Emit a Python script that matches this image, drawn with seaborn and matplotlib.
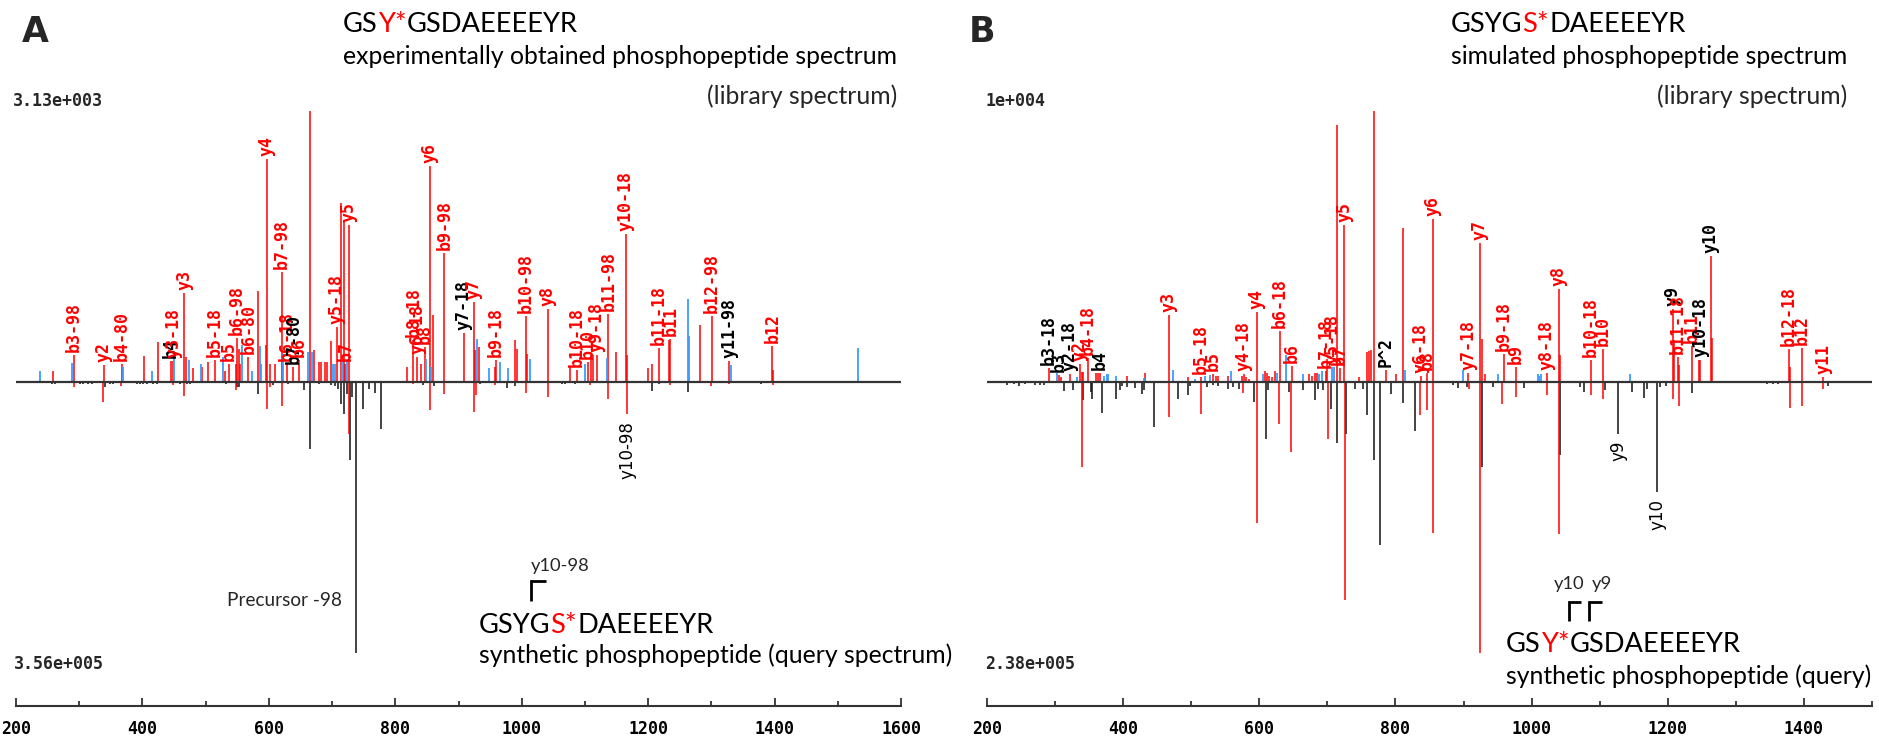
import matplotlib
matplotlib.use("Agg")
import matplotlib.pyplot as plt
import matplotlib.transforms as mtransforms
from matplotlib.lines import Line2D
from matplotlib.ticker import MultipleLocator
import seaborn as sns

# ---------------- data (relative intensities, m/z) ----------------
# Panel A, library spectrum (top)
A_lib_red_mz = [259.1, 291.2, 339.2, 367.2, 402.5, 424.1, 445.2, 448.9, 466.3, 468.4,
                480.5, 494.2, 504.3, 514.8, 531.2, 537.0, 547.5, 549.6, 552.2, 554.4,
                567.5, 583.4, 595.0, 597.1, 601.8, 609.7, 620.8, 628.2, 638.7, 647.2,
                665.6, 672.0, 678.8, 682.0, 688.8, 692.0, 697.8, 707.3, 713.6, 718.9,
                721.0, 726.3, 818.5, 828.6, 834.9, 840.2, 847.0, 854.4, 859.1, 877.6,
                908.2, 924.0, 925.6, 932.5, 957.8, 959.4, 989.4, 992.1, 1006.8, 1009.0,
                1041.1, 1076.4, 1087.5, 1104.4, 1109.1, 1112.3, 1118.6, 1137.1, 1148.7, 1165.0,
                1167.1, 1200.4, 1206.7, 1216.7, 1233.6, 1235.2, 1282.1, 1300.5, 1328.5, 1396.5,
                1398.1]
A_lib_red_int = [0.041, 0.101, 0.064, 0.068, 0.095, 0.148, 0.076, 0.076, 0.328, 0.092,
                 0.052, 0.055, 0.074, 0.082, 0.041, 0.068, 0.068, 0.164, 0.123, 0.068,
                 0.092, 0.335, 0.138, 0.824, 0.068, 0.068, 0.406, 0.068, 0.055, 0.082,
                 1.0, 0.117, 0.074, 0.074, 0.074, 0.074, 0.151, 0.203, 0.661, 0.590,
                 0.068, 0.581, 0.055, 0.154, 0.092, 0.068, 0.129, 0.796, 0.248, 0.476,
                 0.182, 0.295, 0.117, 0.129, 0.055, 0.080, 0.156, 0.123, 0.242, 0.105,
                 0.269, 0.055, 0.046, 0.074, 0.098, 0.098, 0.098, 0.252, 0.111, 0.547,
                 0.098, 0.052, 0.068, 0.127, 0.156, 0.160, 0.209, 0.242, 0.077, 0.133,
                 0.046]
A_lib_blue_mz = [238.0, 288.6, 368.7, 415.1, 450.0, 473.7, 492.1, 527.0, 557.0, 573.9,
                 585.5, 588.1, 622.4, 662.5, 667.7, 702.0, 704.1, 715.7, 723.1, 848.6,
                 856.5, 928.8, 947.8, 966.2, 978.4, 1013.2, 1100.2, 1134.4, 1263.1, 1265.2,
                 1331.1, 1532.0]
A_lib_blue_int = [0.041, 0.071, 0.055, 0.041, 0.092, 0.080, 0.068, 0.092, 0.138, 0.041,
                  0.133, 0.068, 0.105, 0.111, 0.111, 0.068, 0.068, 0.080, 0.080, 0.086,
                  0.055, 0.160, 0.052, 0.073, 0.052, 0.085, 0.068, 0.090, 0.307, 0.171,
                  0.061, 0.127]
A_lib_labels = ["b3-98", "y2", "b4-80", "b4", "y3-18", "y3", "b5-18", "b5", "b6-98", "b6-80",
                "y4", "b7-98", "b6-18", "b7-80", "b6", "y5-18", "b7", "y5", "b8-18", "y6-18",
                "b8", "y6", "b9-98", "y7-18", "y7", "b9-18", "b10-98", "y8", "b10-18", "b10",
                "y9-18", "b11-98", "y10-18", "b11-18", "b11", "b12-98", "y11-98", "b12"]
A_lib_label_mz = [291.2, 339.2, 367.2, 445.2, 448.9, 466.3, 514.8, 537.0, 549.6, 567.5,
                  597.1, 620.8, 628.2, 638.7, 647.2, 707.3, 721.0, 726.3, 828.6, 834.9,
                  847.0, 854.4, 877.6, 908.2, 924.0, 959.4, 1006.8, 1041.1, 1087.5, 1104.4,
                  1118.6, 1137.1, 1165.0, 1216.7, 1235.2, 1300.5, 1328.5, 1396.5]
A_lib_black_labels = ["b4", "b7-80", "y7-18", "y11-98"]

# Panel A, query spectrum (bottom, drawn inverted)
A_qry_red_mz = [291.8, 338.2, 366.1, 448.9, 466.3, 547.5, 597.1, 601.8, 620.8, 726.3,
                828.6, 854.4, 877.6, 924.0, 927.7, 957.8, 1006.8, 1041.1, 1108.0, 1137.1,
                1167.1, 1235.0, 1299.0, 1328.0, 1397.0]
A_qry_red_int = [0.018, 0.074, 0.015, 0.012, 0.052, 0.031, 0.101, 0.018, 0.090, 0.193,
                 0.009, 0.105, 0.043, 0.111, 0.049, 0.012, 0.041, 0.055, 0.012, 0.062,
                 0.117, 0.012, 0.016, 0.009, 0.012]
A_qry_black_mz = [256.4, 261.7, 301, 306, 314, 321, 340.8, 349, 354, 391,
                  396, 401, 407, 417, 423, 459.5, 470, 475, 532, 550,
                  553.3, 583.4, 607, 631, 655.6, 665.1, 680, 699, 704, 710.1,
                  713.6, 718.9, 723.1, 728.4, 731.5, 737.9, 749.5, 758.4, 767.9, 777.4,
                  844, 861.2, 934, 976.3, 990.0, 1063, 1068, 1084, 1206.7, 1217,
                  1263.6, 1379]
A_qry_black_int = [0.009, 0.009, 0.006, 0.006, 0.006, 0.006, 0.018, 0.006, 0.006, 0.006,
                   0.006, 0.006, 0.006, 0.006, 0.006, 0.009, 0.009, 0.009, 0.006, 0.018,
                   0.018, 0.045, 0.012, 0.009, 0.028, 0.248, 0.009, 0.012, 0.016, 0.025,
                   0.080, 0.117, 0.043, 0.287, 0.055, 1.0, 0.101, 0.025, 0.041, 0.172,
                   0.012, 0.016, 0.006, 0.021, 0.016, 0.006, 0.006, 0.009, 0.033, 0.009,
                   0.037, 0.006]
A_qry_labels = ["y10-98"]
A_qry_label_mz = [1167.1]
A_precursor_mz = 737.9

# Panel B, library spectrum (top)
B_lib_red_mz = [291.1, 305.3, 308.2, 321.9, 336.6, 339.5, 341.5, 347.9, 360.1, 363.0,
                366.0, 406.1, 432.1, 467.3, 495.2, 513.8, 531.5, 536.4, 538.8, 554.0,
                575.0, 577.5, 580.4, 585.3, 596.1, 608.8, 611.8, 614.7, 618.1, 623.0,
                629.9, 647.5, 672.9, 677.8, 681.8, 684.7, 697.4, 699.9, 713.6, 718.5,
                724.9, 746.9, 758.6, 761.6, 764.5, 767.9, 785.6, 800.8, 811.5, 837.4,
                845.8, 855.1, 907.0, 924.1, 927.0, 931.9, 959.4, 976.5, 1022.5, 1039.7,
                1042.1, 1087.1, 1104.3, 1207.1, 1209.0, 1214.9, 1216.9, 1235.0, 1245.8, 1247.7,
                1263.4, 1264.9, 1378.0, 1379.4, 1397.5, 1428.4]
B_lib_red_int = [0.052, 0.025, 0.018, 0.028, 0.068, 0.037, 0.037, 0.089, 0.033, 0.033,
                 0.033, 0.023, 0.033, 0.246, 0.018, 0.018, 0.028, 0.021, 0.021, 0.023,
                 0.023, 0.028, 0.018, 0.012, 0.257, 0.041, 0.033, 0.023, 0.018, 0.041,
                 0.187, 0.059, 0.028, 0.023, 0.033, 0.033, 0.041, 0.086, 0.950, 0.052,
                 0.581, 0.018, 0.111, 0.114, 0.117, 1.0, 0.046, 0.028, 0.568, 0.023,
                 0.033, 0.603, 0.033, 0.513, 0.159, 0.028, 0.105, 0.055, 0.033, 0.343,
                 0.098, 0.082, 0.123, 0.271, 0.154, 0.092, 0.062, 0.132, 0.080, 0.082,
                 0.466, 0.164, 0.123, 0.055, 0.127, 0.018]
B_lib_blue_mz = [303.3, 331.7, 372.3, 375.8, 378.2, 389.0, 430.6, 472.7, 505.5, 520.2,
                 527.5, 558.4, 605.9, 626.5, 638.7, 664.6, 687.7, 692.5, 707.2, 709.7,
                 814.0, 898.6, 950.5, 1008.8, 1011.3, 1013.7, 1143.9]
B_lib_blue_int = [0.033, 0.018, 0.023, 0.028, 0.028, 0.023, 0.015, 0.046, 0.012, 0.021,
                  0.025, 0.041, 0.028, 0.033, 0.098, 0.028, 0.028, 0.041, 0.055, 0.055,
                  0.046, 0.046, 0.028, 0.028, 0.023, 0.028, 0.028]
B_lib_labels = ["b3-18", "b3", "y2-18", "y2", "b4-18", "b4", "y3", "b5-18", "b5", "y4-18",
                "y4", "b6-18", "b6", "b7-18", "y5-18", "b7", "y5", "P^2", "y6-18", "b8",
                "y6", "y7-18", "y7", "b9-18", "b9", "y8-18", "y8", "b10-18", "b10", "y9",
                "b11-18", "b11", "y10-18", "y10", "b12-18", "b12", "y11"]
B_lib_label_mz = [291.1, 305.3, 321.9, 336.6, 347.9, 366.0, 467.3, 513.8, 531.5, 577.5,
                  596.1, 629.9, 647.5, 697.4, 707.2, 718.5, 724.9, 785.6, 837.4, 845.8,
                  855.1, 907.0, 924.1, 959.4, 976.5, 1022.5, 1039.7, 1087.1, 1104.3, 1207.1,
                  1214.9, 1235.0, 1247.7, 1263.4, 1378.0, 1397.5, 1428.4]
B_lib_black_labels = ["b3-18", "b3", "y2-18", "b4", "P^2", "y9", "y10-18", "y10"]

# Panel B, query spectrum (bottom, drawn inverted)
B_qry_red_mz = [339.0, 466.8, 514.3, 576.5, 597.1, 629.4, 647.0, 701.3, 725.4, 836.0,
                845.8, 855.1, 907.9, 924.1, 956.9, 976.5, 1022.5, 1039.7, 1087.1, 1104.3,
                1207.1, 1215.9, 1379.4, 1397.5, 1428.4]
B_qry_red_int = [0.314, 0.129, 0.117, 0.041, 0.520, 0.154, 0.258, 0.209, 0.803, 0.120,
                 0.105, 0.557, 0.027, 1.0, 0.082, 0.055, 0.049, 0.562, 0.049, 0.062,
                 0.062, 0.090, 0.095, 0.090, 0.025]
B_qry_black_mz = [228.9, 239.7, 247.5, 256, 270.5, 277.8, 283.7, 313.1, 325.8, 341.5,
                  352.3, 354.2, 369.4, 389.0, 395.3, 399, 405.1, 417.4, 428.2, 430.6,
                  445.3, 480.0, 494.7, 498, 522.5, 532, 539, 554.5, 562, 570.2,
                  592.7, 610.3, 613, 643.6, 664.1, 681.8, 686.7, 694.0, 704.8, 714.1,
                  726.8, 740.5, 752.8, 757.6, 768.4, 777.2, 792.9, 811.5, 829.3, 884.9,
                  892.3, 904.5, 926.6, 942.7, 989.2, 1041.6, 1071.0, 1077.3, 1107.2, 1127.3,
                  1147.9, 1165.5, 1169, 1184.6, 1188, 1197, 1235.0, 1345.2, 1355, 1362,
                  1435.7]
B_qry_black_int = [0.012, 0.009, 0.016, 0.006, 0.012, 0.012, 0.012, 0.033, 0.028, 0.068,
                   0.037, 0.062, 0.113, 0.062, 0.031, 0.016, 0.018, 0.021, 0.043, 0.031,
                   0.166, 0.062, 0.049, 0.016, 0.018, 0.012, 0.016, 0.025, 0.018, 0.025,
                   0.074, 0.209, 0.031, 0.037, 0.028, 0.068, 0.025, 0.031, 0.098, 0.225,
                   0.191, 0.025, 0.025, 0.120, 0.289, 0.600, 0.043, 0.077, 0.182, 0.012,
                   0.021, 0.018, 0.314, 0.018, 0.021, 0.270, 0.018, 0.037, 0.028, 0.191,
                   0.037, 0.058, 0.025, 0.406, 0.018, 0.016, 0.041, 0.009, 0.009, 0.009,
                   0.016]
B_qry_labels = ["y9", "y10"]
B_qry_label_mz = [1127.3, 1184.6]

A_ticks = [200, 400, 600, 800, 1000, 1200, 1400, 1600]
B_ticks = [200, 400, 600, 800, 1000, 1200, 1400]
A_scale_top, A_scale_bottom = "3.13e+003", "3.56e+005"
B_scale_top, B_scale_bottom = "1e+004", "2.38e+005"

# ---------------- figure ----------------
W, H, DPI = 1879, 739, 100
sns.set_theme(style="white")
plt.rcParams["font.family"] = ["DejaVu Sans"]
fig = plt.figure(figsize=(W / DPI, H / DPI), dpi=DPI)
renderer = fig.canvas.get_renderer()

RED, BLUE, BLACK, GREY = "#ff0000", "#3c9cff", "#111111", "#333333"
MONO = ["DejaVu Sans Mono"]
SANS = ["Lato", "DejaVu Sans"]

BASE_Y, TOP_Y, AXIS_Y = 382, 111, 706
UNIT = BASE_Y - TOP_Y
YBOT = -(AXIS_Y - BASE_Y) / UNIT


def fx(x):
    return x / W


def fy(y):
    return 1 - y / H


def text_w(s, fs, family, weight="normal"):
    t = fig.text(0, 0, s, fontsize=fs, family=family, weight=weight)
    w = t.get_window_extent(renderer=renderer).width
    t.remove()
    return w


def fit(s, target, family, weight="normal"):
    return 20 * target / text_w(s, 20, family, weight)


def rich(pieces, x, ybase, fs, family, ha="left"):
    pos = []
    for s, c in pieces:
        pos.append(x)
        t = fig.text(fx(x), fy(ybase), s, color=c, fontsize=fs, family=family,
                     ha="left", va="baseline")
        x += t.get_window_extent(renderer=renderer).width
    pos.append(x)
    return pos


def bracket(x, ytop, ybot, length=14):
    fig.add_artist(Line2D([fx(x), fx(x), fx(x + length)], [fy(ybot), fy(ytop), fy(ytop)],
                          transform=fig.transFigure, color="black", lw=2.0,
                          solid_capstyle="butt", solid_joinstyle="miter"))


def make_axes(left, right, xmax, ticks):
    ax = fig.add_axes([fx(left), fy(AXIS_Y), (right - left) / W, (AXIS_Y - TOP_Y) / H])
    ax.set_xlim(200, xmax)
    ax.set_ylim(YBOT, 1.0)
    ax.set_facecolor("none")
    sns.despine(ax=ax, left=True, top=True, right=True)
    ax.spines["bottom"].set_color(GREY)
    ax.spines["bottom"].set_linewidth(1.5)
    ax.set_yticks([])
    ax.set_xticks(ticks)
    ax.set_xticklabels([str(t) for t in ticks], fontfamily=MONO, fontweight="bold",
                       fontsize=12, color="black")
    ax.xaxis.set_minor_locator(MultipleLocator(100))
    ax.tick_params(axis="x", which="major", bottom=True, direction="in", length=6,
                   width=1.3, color=GREY, pad=10)
    ax.tick_params(axis="x", which="minor", bottom=True, direction="in", length=3.5,
                   width=1.3, color=GREY)
    ax.grid(False)
    return ax


def draw_spectrum(ax, lib_red, lib_blue, qry_red, qry_black):
    ax.vlines(qry_black[0], [-v for v in qry_black[1]], 0, colors=BLACK, lw=1.1)
    ax.vlines(qry_red[0], [-v for v in qry_red[1]], 0, colors=RED, lw=1.1)
    ax.vlines(lib_red[0], 0, lib_red[1], colors=RED, lw=1.1)
    ax.vlines(lib_blue[0], 0, lib_blue[1], colors=BLUE, lw=1.3)
    ax.axhline(0, color=GREY, lw=1.6, zorder=3)


def top_labels(ax, labels, label_mz, black, peaks):
    off = mtransforms.offset_copy(ax.transData, fig=fig, x=0, y=3, units="dots")
    for s, m in zip(labels, label_mz):
        h = max(v for mzs, ints in peaks for x, v in zip(mzs, ints) if abs(x - m) < 0.05)
        ax.text(m, h, s, rotation=90, ha="center", va="bottom", transform=off,
                fontsize=12, family=MONO, weight="bold",
                color="black" if s in black else RED, clip_on=False, zorder=4)


def bottom_labels(ax, labels, label_mz, peaks):
    off = mtransforms.offset_copy(ax.transData, fig=fig, x=0, y=-7, units="dots")
    for s, m in zip(labels, label_mz):
        d = max(v for mzs, ints in peaks for x, v in zip(mzs, ints) if abs(x - m) < 0.05)
        ax.text(m, -d, s, rotation=90, ha="center", va="top", transform=off,
                fontsize=12, family=["DejaVu Sans"], color="black", clip_on=False)


# ---- Panel A ----
axA = make_axes(16, 901, 1600, A_ticks)
draw_spectrum(axA, (A_lib_red_mz, A_lib_red_int), (A_lib_blue_mz, A_lib_blue_int),
              (A_qry_red_mz, A_qry_red_int), (A_qry_black_mz, A_qry_black_int))
top_labels(axA, A_lib_labels, A_lib_label_mz, A_lib_black_labels,
           [(A_lib_red_mz, A_lib_red_int), (A_lib_blue_mz, A_lib_blue_int)])
bottom_labels(axA, A_qry_labels, A_qry_label_mz,
              [(A_qry_red_mz, A_qry_red_int), (A_qry_black_mz, A_qry_black_int)])

# ---- Panel B ----
axB = make_axes(987, 1872, 1500, B_ticks)
draw_spectrum(axB, (B_lib_red_mz, B_lib_red_int), (B_lib_blue_mz, B_lib_blue_int),
              (B_qry_red_mz, B_qry_red_int), (B_qry_black_mz, B_qry_black_int))
top_labels(axB, B_lib_labels, B_lib_label_mz, B_lib_black_labels,
           [(B_lib_red_mz, B_lib_red_int), (B_lib_blue_mz, B_lib_blue_int)])
bottom_labels(axB, B_qry_labels, B_qry_label_mz,
              [(B_qry_red_mz, B_qry_red_int), (B_qry_black_mz, B_qry_black_int)])

# ---------------- texts ----------------
fs_pep = fit("GSY*GSDAEEEEYR", 234, SANS)
fs_sub = fit("experimentally obtained phosphopeptide spectrum", 556, SANS)
fs_small = fit("y10-98", 59, SANS)
fs_prec = fit("Precursor -98", 115, SANS)

# panel letters
for letter, x in (("A", 22), ("B", 969)):
    fig.text(fx(x), fy(42), letter, fontsize=25, weight="bold", family=["DejaVu Sans"],
             ha="left", va="baseline")

# intensity scale labels
for s, x, y in ((A_scale_top, 13, 106), (A_scale_bottom, 14, 669),
                (B_scale_top, 986, 106), (B_scale_bottom, 985, 669)):
    fig.text(fx(x), fy(y), s, fontsize=12, family=MONO, weight="bold",
             ha="left", va="baseline")

# Panel A headings
rich([("GS", "black"), ("Y*", RED), ("GSDAEEEEYR", "black")], 343, 32, fs_pep, SANS)
endA = rich([("experimentally obtained phosphopeptide spectrum", "black")], 343, 64,
            fs_sub, SANS)[-1]
fig.text(fx(endA), fy(104), "(library spectrum)", fontsize=fs_sub, family=SANS,
         ha="right", va="baseline")

# Panel A query annotation
posA = rich([("GSYG", "black"), ("S*", RED), ("DAEEEEYR", "black")], 479, 633, fs_pep, SANS)
rich([("synthetic phosphopeptide (query spectrum)", "black")], 479, 663, fs_sub, SANS)
bxA = posA[0] + text_w("GSY", fs_pep, SANS)
bracket(bxA, 633 - 52, 633 - 32, 15)
fig.text(fx(bxA), fy(571), "y10-98", fontsize=fs_small, family=SANS, ha="left",
         va="baseline")
px_prec = axA.transData.transform((A_precursor_mz, 0))[0]
fig.text(fx(px_prec - 14), fy(606), "Precursor -98", fontsize=fs_prec, family=SANS,
         ha="right", va="baseline")

# Panel B headings
rich([("GSYG", "black"), ("S*", RED), ("DAEEEEYR", "black")], 1451, 32, fs_pep, SANS)
endB = rich([("simulated phosphopeptide spectrum", "black")], 1451, 64, fs_sub, SANS)[-1]
fig.text(fx(endB), fy(104), "(library spectrum)", fontsize=fs_sub, family=SANS,
         ha="right", va="baseline")

# Panel B query annotation
posB = rich([("GS", "black"), ("Y*", RED), ("GSDAEEEEYR", "black")], 1506, 652, fs_pep, SANS)
rich([("synthetic phosphopeptide (query)", "black")], 1506, 684, fs_sub, SANS)
bx10 = posB[2]
bx9 = posB[2] + text_w("G", fs_pep, SANS)
bracket(bx10, 652 - 50, 652 - 31, 12)
bracket(bx9, 652 - 50, 652 - 31, 13)
fig.text(fx(bx10), fy(589), "y10", fontsize=fs_small, family=SANS, ha="center",
         va="baseline")
fig.text(fx(bx9 + 3), fy(589), "y9", fontsize=fs_small, family=SANS, ha="left",
         va="baseline")

fig.savefig("out.png", dpi=DPI)
